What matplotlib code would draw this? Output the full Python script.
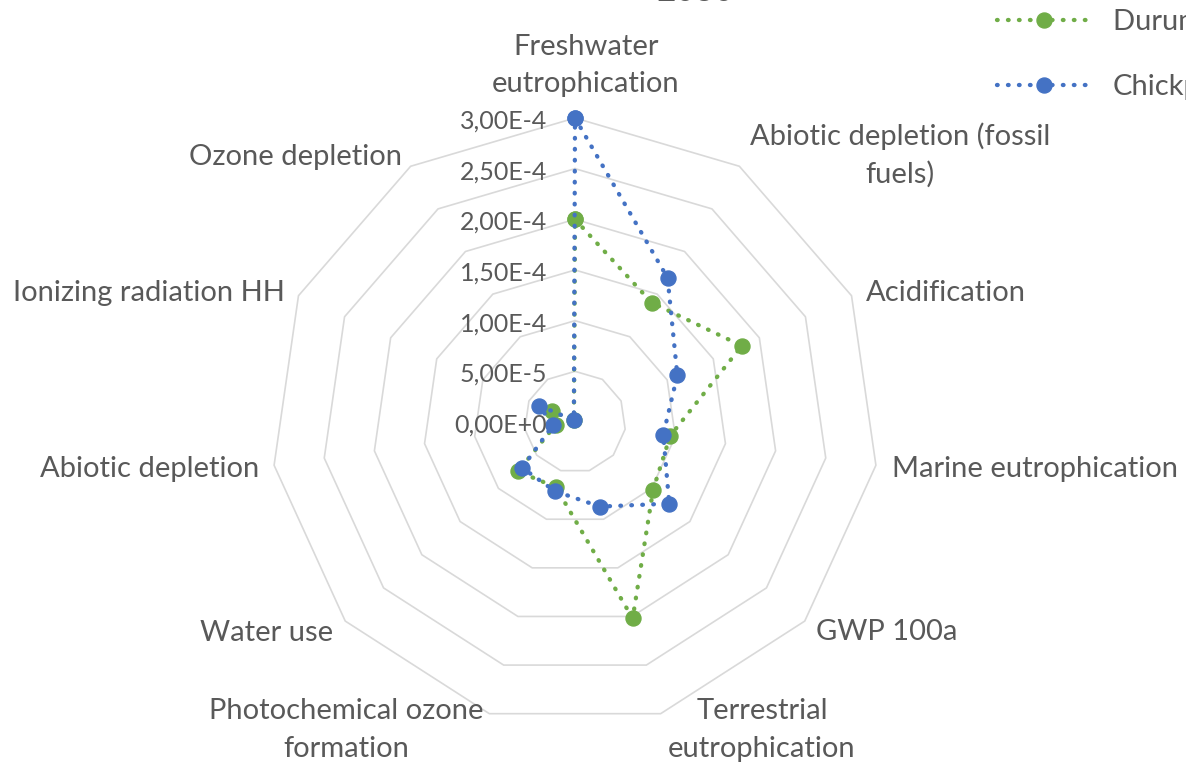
import numpy as np
import matplotlib
matplotlib.use("Agg")
import matplotlib.pyplot as plt
from matplotlib import transforms

plt.rcParams['font.family'] = ['Lato', 'DejaVu Sans']

# ---------------- data ----------------
categories = [
    "Freshwater eutrophication",
    "Abiotic depletion (fossil fuels)",
    "Acidification",
    "Marine eutrophication",
    "GWP 100a",
    "Terrestrial eutrophication",
    "Photochemical ozone formation",
    "Water use",
    "Abiotic depletion",
    "Ionizing radiation HH",
    "Ozone depletion",
]
durum = [2.00e-4, 1.40e-4, 1.81e-4, 9.5e-5, 1.02e-4, 2.02e-4,
         6.7e-5, 7.45e-5, 1.93e-5, 2.5e-5, 2.0e-6]
chickpea = [3.00e-4, 1.69e-4, 1.11e-4, 8.8e-5, 1.23e-4, 8.7e-5,
            7.1e-5, 6.9e-5, 2.2e-5, 3.9e-5, 2.0e-6]
series_names = ["Durum wheat", "Chickpea"]
ring_values = [5e-5, 1e-4, 1.5e-4, 2e-4, 2.5e-4, 3e-4]
tick_values = [0, 5e-5, 1e-4, 1.5e-4, 2e-4, 2.5e-4, 3e-4]
tick_labels = ["0,00E+0", "5,00E-5", "1,00E-4", "1,50E-4",
               "2,00E-4", "2,50E-4", "3,00E-4"]
title_text = "2030"

# ---------------- layout / style ----------------
W, H = 1186, 765
DPI = 100
GREEN = "#70AD47"
BLUE = "#4472C4"
GRID = "#D9D9D9"
TXT = "#595959"
LABEL_FS = 21
TICK_FS = 18

fig = plt.figure(figsize=(W / DPI, H / DPI), dpi=DPI)
cx, cy, R = 575, 422, 304
ax = fig.add_axes([(cx - R) / W, (H - cy - R) / H, 2 * R / W, 2 * R / H],
                  projection='polar')
ax.set_theta_zero_location('N')
ax.set_theta_direction(-1)
ax.set_ylim(0, 3e-4)
ax.grid(False)
ax.set_xticks([])
ax.set_yticks([])
ax.spines['polar'].set_visible(False)
ax.patch.set_alpha(0)

n = len(categories)
theta = np.linspace(0, 2 * np.pi, n, endpoint=False)
theta_c = np.append(theta, theta[0])

# polygon gridlines
for rv in ring_values:
    ax.plot(theta_c, [rv] * (n + 1), color=GRID, lw=1.2, zorder=0,
            clip_on=False)

def draw_series(vals, color, name, z):
    v = np.append(vals, vals[0])
    ln, = ax.plot(theta_c, v, color=color, lw=3.1,
                  linestyle=(0, (0.15, 2.4)), dash_capstyle='round',
                  marker='o', markersize=10.8, markerfacecolor=color,
                  markeredgecolor=color, zorder=z, clip_on=False, label=name)
    return ln

l1 = draw_series(durum, GREEN, series_names[0], 3)
l2 = draw_series(chickpea, BLUE, series_names[1], 4)

# radial tick labels
off = transforms.offset_copy(ax.transData, fig=fig, x=-28, y=-10.5,
                             units='dots')
for tv, tl in zip(tick_values, tick_labels):
    ax.text(0, tv, tl, transform=off, ha='right', va='baseline',
            fontsize=TICK_FS, color=TXT, zorder=5, clip_on=False)

# category labels: (lines, anchor x, baselines, ha)
label_layout = [
    (["Freshwater", "eutrophication"], 586, [55, 92], 'center'),
    (["Abiotic depletion (fossil", "fuels)"], 900, [145, 183], 'center'),
    (["Acidification"], 866, [301], 'left'),
    (["Marine eutrophication"], 892, [477], 'left'),
    (["GWP 100a"], 816, [640], 'left'),
    (["Terrestrial", "eutrophication"], 762, [719, 757], 'center'),
    (["Photochemical ozone", "formation"], 346, [719, 757], 'center'),
    (["Water use"], 333, [641], 'right'),
    (["Abiotic depletion"], 259, [477], 'right'),
    (["Ionizing radiation HH"], 285, [301], 'right'),
    (["Ozone depletion"], 402, [165], 'right'),
]
for lines, x, ys, ha in label_layout:
    for line, y in zip(lines, ys):
        fig.text(x / W, 1 - y / H, line, ha=ha, va='baseline',
                 fontsize=LABEL_FS, color=TXT)

# title (mostly cut off at top)
fig.text(695 / W, 1 - 1 / H, title_text, ha='center', va='baseline',
         fontsize=24, color=TXT)

# legend
leg = fig.legend(handles=[l1, l2], loc='upper left',
                 bbox_to_anchor=(997 / W, 1 - 9 / H),
                 frameon=False, fontsize=LABEL_FS, handlelength=3.25,
                 handletextpad=0.72, labelspacing=1.33, borderpad=0,
                 borderaxespad=0, numpoints=1)
for t in leg.get_texts():
    t.set_color(TXT)

fig.savefig("out.png", dpi=DPI)
